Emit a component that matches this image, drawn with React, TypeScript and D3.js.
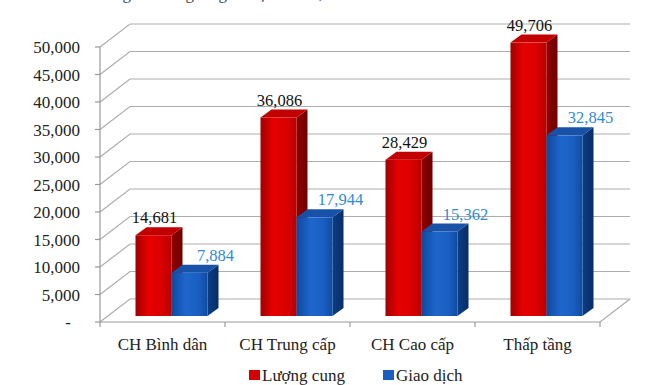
import React, { useEffect, useRef } from "react";
import * as d3 from "d3";

const categories = ["CH Bình dân", "CH Trung cấp", "CH Cao cấp", "Thấp tầng"];
const supply = [14681, 36086, 28429, 49706];
const transactions = [7884, 17944, 15362, 32845];
const seriesNames = ["Lượng cung", "Giao dịch"];
const yTicks = [0, 5000, 10000, 15000, 20000, 25000, 30000, 35000, 40000, 45000, 50000];
const titleText = "Biểu đồ: Nguồn cung và giao dịch BĐS, căn";

const width = 650;
const height = 385;
const left = 100;
const right = 600;
const floorY = 322;
const topY = 47;
// depth of the 3D box (front axis -> back wall)
const depthX = 30;
const depthY = -23;
// bars sit a bit behind the front plane
const barShiftX = 9;
const barShiftY = -6;
const barDepthX = 11;
const barDepthY = -8;
const barWidth = 36;

const font = "'Liberation Serif', 'Times New Roman', serif";
const gridColor = "#adadad";

const App = () => {
  const ref = useRef<SVGSVGElement>(null);

  useEffect(() => {
    const svg = d3.select(ref.current);
    svg.selectAll("*").remove();

    const xScale = d3.scaleBand<string>().domain(categories).range([left, right]);
    const yScale = d3.scaleLinear().domain([0, 50000]).range([floorY, topY]);
    const fmt = d3.format(",");

    const defs = svg.append("defs");
    const grad = (id: string, stops: [number, string][]) => {
      const g = defs.append("linearGradient").attr("id", id).attr("x1", "0").attr("x2", "1").attr("y1", "0").attr("y2", "0");
      stops.forEach(([o, c]) => g.append("stop").attr("offset", o).attr("stop-color", c));
    };
    grad("redFront", [[0, "#a00000"], [0.35, "#e60000"], [0.7, "#dc0000"], [1, "#b80000"]]);
    grad("redSide", [[0, "#900000"], [1, "#6e0000"]]);
    grad("blueFront", [[0, "#0c4a9e"], [0.4, "#1f66cc"], [0.75, "#1a5ec2"], [1, "#0f4c9f"]]);
    grad("blueSide", [[0, "#0c3e86"], [1, "#082d66"]]);

    // title line, cut off by the top edge as in the source image
    svg.append("text")
      .attr("x", 48)
      .attr("y", -1)
      .attr("font-family", font)
      .attr("font-size", 17)
      .attr("fill", "#444")
      .text(titleText);

    // back wall + left wall gridlines
    yTicks.forEach((t) => {
      const yy = yScale(t);
      svg.append("polyline")
        .attr("points", `${left},${yy} ${left + depthX},${yy + depthY} ${right + depthX},${yy + depthY}`)
        .attr("fill", "none")
        .attr("stroke", gridColor)
        .attr("stroke-width", 1.2);
    });

    // floor right edge
    svg.append("line")
      .attr("x1", right).attr("y1", floorY)
      .attr("x2", right + depthX).attr("y2", floorY + depthY)
      .attr("stroke", gridColor).attr("stroke-width", 1.2);

    // front axes
    svg.append("line")
      .attr("x1", left).attr("y1", topY).attr("x2", left).attr("y2", floorY)
      .attr("stroke", "#999").attr("stroke-width", 1.2);
    svg.append("line")
      .attr("x1", left).attr("y1", floorY).attr("x2", right).attr("y2", floorY)
      .attr("stroke", "#999").attr("stroke-width", 1.2);

    yTicks.forEach((t) => {
      svg.append("line")
        .attr("x1", left - 5).attr("x2", left)
        .attr("y1", yScale(t)).attr("y2", yScale(t))
        .attr("stroke", "#999").attr("stroke-width", 1.2);
      svg.append("text")
        .attr("x", t === 0 ? 71 : 80)
        .attr("y", yScale(t) + 6)
        .attr("text-anchor", "end")
        .attr("font-family", font)
        .attr("font-size", 17)
        .attr("fill", "#222")
        .text(t === 0 ? "-" : fmt(t));
    });

    const bounds = [...categories.map((c) => xScale(c) as number), right];
    bounds.forEach((b) => {
      svg.append("line")
        .attr("x1", b).attr("x2", b)
        .attr("y1", floorY).attr("y2", floorY + 5)
        .attr("stroke", "#999").attr("stroke-width", 1.2);
    });

    const band = xScale.bandwidth();
    const series = [
      { values: supply, front: "url(#redFront)", top: "#c20000", side: "url(#redSide)", label: "#111" },
      { values: transactions, front: "url(#blueFront)", top: "#1752a8", side: "url(#blueSide)", label: "#2f8bd5" },
    ];

    categories.forEach((cat, i) => {
      series.forEach((s, k) => {
        const v = s.values[i];
        const x0 = (xScale(cat) as number) + (band - 2 * barWidth) / 2 + k * barWidth + barShiftX;
        const x1 = x0 + barWidth;
        const yTop = yScale(v) + barShiftY;
        const yBase = floorY + barShiftY;

        svg.append("polygon")
          .attr("points", `${x1},${yTop} ${x1 + barDepthX},${yTop + barDepthY} ${x1 + barDepthX},${yBase + barDepthY} ${x1},${yBase}`)
          .attr("fill", s.side);
        svg.append("polygon")
          .attr("points", `${x0},${yTop} ${x0 + barDepthX},${yTop + barDepthY} ${x1 + barDepthX},${yTop + barDepthY} ${x1},${yTop}`)
          .attr("fill", s.top);
        svg.append("rect")
          .attr("x", x0).attr("y", yTop)
          .attr("width", barWidth).attr("height", yBase - yTop)
          .attr("fill", s.front);
      });
    });

    // value labels
    categories.forEach((cat, i) => {
      series.forEach((s, k) => {
        const v = s.values[i];
        const x0 = (xScale(cat) as number) + (band - 2 * barWidth) / 2 + k * barWidth + barShiftX;
        const yTop = yScale(v) + barShiftY;
        svg.append("text")
          .attr("x", k === 0 ? x0 + barWidth / 2 + 1 : x0 + barWidth + 8)
          .attr("y", yTop - 12)
          .attr("text-anchor", "middle")
          .attr("font-family", font)
          .attr("font-size", 16.5)
          .attr("fill", s.label)
          .text(fmt(v));
      });
    });

    // category labels
    categories.forEach((cat) => {
      svg.append("text")
        .attr("x", (xScale(cat) as number) + band / 2)
        .attr("y", 350)
        .attr("text-anchor", "middle")
        .attr("font-family", font)
        .attr("font-size", 17)
        .attr("fill", "#222")
        .text(cat);
    });

    // legend
    const legendX = [249, 383];
    const legendColors = ["#d40000", "#1a5ec2"];
    seriesNames.forEach((name, k) => {
      svg.append("rect")
        .attr("x", legendX[k]).attr("y", 370)
        .attr("width", 11).attr("height", 10)
        .attr("fill", legendColors[k]);
      svg.append("text")
        .attr("x", legendX[k] + 13)
        .attr("y", 381)
        .attr("font-family", font)
        .attr("font-size", 17)
        .attr("fill", "#222")
        .text(name);
    });
  }, []);

  return (
    <svg
      ref={ref}
      width={width}
      height={height}
      style={{ position: "absolute", left: 0, top: 0, background: "#fff" }}
    />
  );
};

export default App;
